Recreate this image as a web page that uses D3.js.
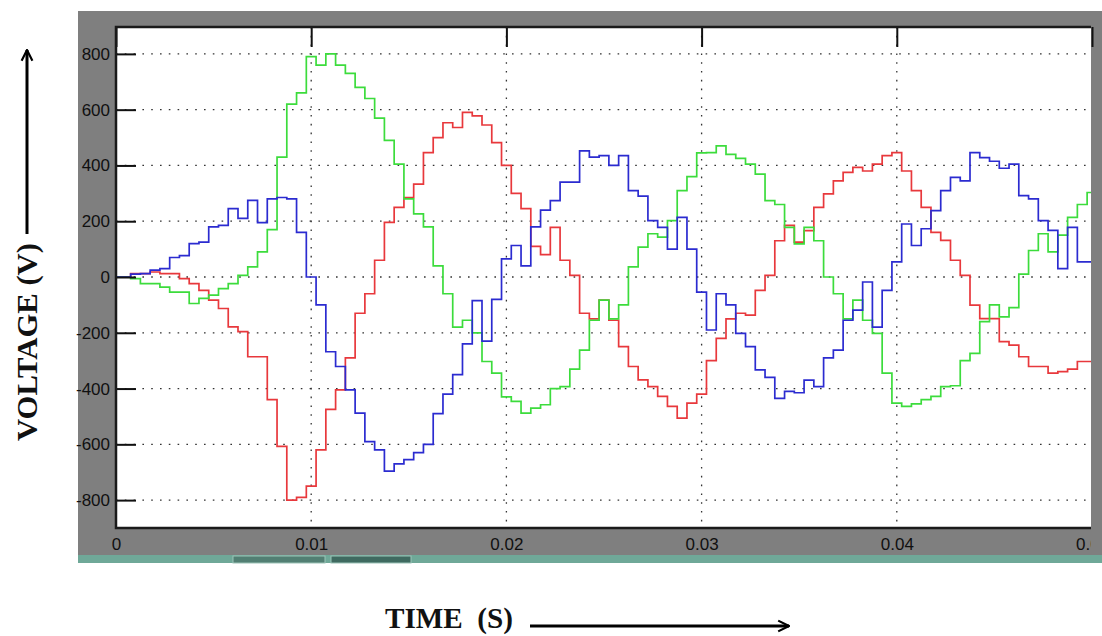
<!DOCTYPE html>
<html>
<head>
<meta charset="utf-8">
<script src="https://cdn.jsdelivr.net/npm/d3@7"></script>
<style>
  body { margin: 0; background: #fff; }
  .tick text { font-family: "Liberation Sans", Arial, sans-serif; font-size: 17px; fill: #101010; }
  .label { font-family: "Liberation Serif", "Times New Roman", serif; font-weight: bold; font-size: 29px; fill: #111; white-space: pre; }
</style>
</head>
<body>
<div id="chart"></div>
<script>
// Data (0.5 ms samples)
var times = [
  0, 0.0005, 0.001, 0.0015, 0.002, 0.0025, 0.003, 0.0035, 0.004, 0.0045,
  0.005, 0.0055, 0.006, 0.0065, 0.007, 0.0075, 0.008, 0.0085, 0.009, 0.0095,
  0.01, 0.0105, 0.011, 0.0115, 0.012, 0.0125, 0.013, 0.0135, 0.014, 0.0145,
  0.015, 0.0155, 0.016, 0.0165, 0.017, 0.0175, 0.018, 0.0185, 0.019, 0.0195,
  0.02, 0.0205, 0.021, 0.0215, 0.022, 0.0225, 0.023, 0.0235, 0.024, 0.0245,
  0.025, 0.0255, 0.026, 0.0265, 0.027, 0.0275, 0.028, 0.0285, 0.029, 0.0295,
  0.03, 0.0305, 0.031, 0.0315, 0.032, 0.0325, 0.033, 0.0335, 0.034, 0.0345,
  0.035, 0.0355, 0.036, 0.0365, 0.037, 0.0375, 0.038, 0.0385, 0.039, 0.0395,
  0.04, 0.0405, 0.041, 0.0415, 0.042, 0.0425, 0.043, 0.0435, 0.044, 0.0445,
  0.045, 0.0455, 0.046, 0.0465, 0.047, 0.0475, 0.048, 0.0485, 0.049, 0.0495,
  0.05
];

var redV = [
  0, 0, 12, 12, 18, 12, 12, -6, -24, -48,
  -83, -113, -179, -196, -286, -286, -440, -607, -800, -790,
  -750, -620, -475, -405, -290, -130, -60, 60, 196, 250,
  285, 333, 446, 500, 553, 536, 590, 578, 545, 482,
  400, 300, 245, 110, 80, 178, 60, 6, -130, -150,
  -83, -155, -250, -321, -369, -393, -428, -464, -506, -452,
  -420, -300, -220, -150, -130, -137, -48, 6, 130, 185,
  125, 166, 250, 298, 345, 375, 393, 380, 405, 435,
  446, 380, 310, 250, 160, 131, 60, 6, -101, -149,
  -149, -232, -244, -286, -321, -321, -345, -339, -330, -303,
  -303
];

var greenV = [
  0, 0, -6, -24, -24, -36, -54, -54, -95, -77,
  -65, -42, -24, 6, 36, 90, 170, 430, 620, 660,
  790, 760, 800, 760, 730, 680, 640, 570, 490, 405,
  280, 226, 180, 40, -60, -180, -155, -200, -303, -345,
  -430, -446, -488, -470, -458, -400, -393, -330, -262, -155,
  -83, -150, -100, 36, 107, 155, 143, 202, 310, 360,
  445, 446, 470, 440, 425, 405, 369, 274, 260, 178,
  119, 178, 130, 0, -60, -150, -83, -155, -202, -345,
  -452, -464, -455, -440, -428, -393, -390, -300, -274, -160,
  -100, -143, -110, 10, 95, 155, 90, 150, 214, 260,
  303
];

var blueV = [
  0, 0, 10, 12, 25, 30, 70, 77, 120, 125,
  180, 185, 245, 210, 275, 195, 280, 285, 280, 160,
  0, -100, -268, -321, -405, -488, -590, -620, -696, -670,
  -655, -630, -600, -490, -420, -350, -240, -85, -230, -80,
  65, 113, 40, 180, 240, 274, 340, 340, 452, 430,
  435, 400, 435, 310, 290, 202, 178, 100, 214, 100,
  -54, -190, -60, -100, -202, -250, -333, -360, -435, -410,
  -415, -370, -393, -290, -262, -155, -119, -18, -180, -48,
  54, 190, 113, 173, 238, 310, 357, 345, 446, 428,
  415, 390, 405, 292, 280, 202, 167, 30, 178, 54,
  54
];

var xTicks = [0, 0.01, 0.02, 0.03, 0.04, 0.05];
var xTickLabels = ["0", "0.01", "0.02", "0.03", "0.04", "0.05"];
var yTicks = [-800, -600, -400, -200, 0, 200, 400, 600, 800];

var svgW = 1102;
var svgH = 636;

// plot box inside the grey scope frame
var plot = { left: 116, right: 1092, top: 27, bottom: 528 };

var svg = d3.select('#chart')
  .append('svg')
  .attr('width', svgW)
  .attr('height', svgH);

// Scales
var xScale = d3.scaleLinear()
  .domain([0, 0.05])
  .range([plot.left, plot.right]);

var yScale = d3.scaleLinear()
  .domain([-900, 900])
  .range([plot.bottom, plot.top - 1]);

// Grey frame + teal strip
svg.append('rect')
  .attr('x', 78).attr('y', 11)
  .attr('width', 1024).attr('height', 544)
  .attr('fill', '#7f7f7f');
svg.append('rect')
  .attr('x', 78).attr('y', 555)
  .attr('width', 1024).attr('height', 8)
  .attr('fill', '#6fa898');
svg.append('rect')
  .attr('x', 233).attr('y', 556)
  .attr('width', 92).attr('height', 7)
  .attr('fill', '#527f73').attr('stroke', '#9cc4b8').attr('stroke-width', 1);
svg.append('rect')
  .attr('x', 331).attr('y', 556)
  .attr('width', 80).attr('height', 7)
  .attr('fill', '#3f6a60').attr('stroke', '#9cc4b8').attr('stroke-width', 1);

// white plot area
svg.append('rect')
  .attr('x', plot.left).attr('y', plot.top)
  .attr('width', plot.right - plot.left - 1)
  .attr('height', plot.bottom - plot.top)
  .attr('fill', '#fff');

svg.append('clipPath').attr('id', 'plotClip')
  .append('rect')
  .attr('x', plot.left).attr('y', plot.top)
  .attr('width', plot.right - plot.left - 1)
  .attr('height', plot.bottom - plot.top);

// last time label is cut by the frame edge, as on the scope
svg.append('clipPath').attr('id', 'labelClip')
  .append('rect')
  .attr('x', 0).attr('y', 0)
  .attr('width', plot.right - 1).attr('height', svgH);

// Grid (dotted)
var grid = svg.append('g').attr('clip-path', 'url(#plotClip)');
grid.selectAll('.hgrid')
  .data(yTicks)
  .enter()
  .append('line')
  .attr('x1', plot.left).attr('x2', plot.right)
  .attr('y1', d => yScale(d)).attr('y2', d => yScale(d))
  .attr('stroke', '#333').attr('stroke-width', 1.3)
  .attr('stroke-dasharray', '1.6,7.2');
grid.selectAll('.vgrid')
  .data(xTicks)
  .enter()
  .append('line')
  .attr('x1', d => xScale(d)).attr('x2', d => xScale(d))
  .attr('y1', plot.top).attr('y2', plot.bottom)
  .attr('stroke', '#333').attr('stroke-width', 1.3)
  .attr('stroke-dasharray', '1.6,7.2');

// Lines
var series = [
  { values: redV, color: '#e8383c' },
  { values: greenV, color: '#3cdc3c' },
  { values: blueV, color: '#2b2bd0' }
];

var line = d3.line()
  .x((d, i) => xScale(times[i]))
  .y(d => yScale(d))
  .curve(d3.curveStep);

var lines = svg.append('g').attr('clip-path', 'url(#plotClip)');
lines.selectAll('path')
  .data(series)
  .enter()
  .append('path')
  .attr('d', d => line(d.values))
  .attr('fill', 'none')
  .attr('stroke', d => d.color)
  .attr('stroke-width', 1.7)
  .attr('stroke-linejoin', 'miter');

// Axes (MATLAB style inward ticks)
var yAxis = d3.axisLeft(yScale)
  .tickValues(yTicks)
  .tickSize(-20)
  .tickPadding(6)
  .tickFormat(d => String(d));

var xAxis = d3.axisBottom(xScale)
  .tickValues(xTicks)
  .tickSize(-20)
  .tickPadding(10)
  .tickFormat((d, i) => xTickLabels[i]);

var xTop = d3.axisTop(xScale)
  .tickValues(xTicks)
  .tickSize(-20)
  .tickFormat('');

var gy = svg.append('g')
  .attr('transform', 'translate(' + plot.left + ',0)')
  .call(yAxis);
var gx = svg.append('g')
  .attr('transform', 'translate(0,' + plot.bottom + ')')
  .attr('clip-path', 'url(#labelClip)')
  .call(xAxis);
var gt = svg.append('g')
  .attr('transform', 'translate(0,' + plot.top + ')')
  .call(xTop);

[gy, gx, gt].forEach(function (g) {
  g.select('.domain').remove();
  g.selectAll('.tick line').attr('stroke', '#111').attr('stroke-width', 2);
});

// frame lines
svg.append('path')
  .attr('d', 'M' + (plot.right - 1) + ',' + plot.top + 'H' + plot.left + 'V' + plot.bottom + 'H' + (plot.right - 1))
  .attr('fill', 'none')
  .attr('stroke', '#1a1a1a')
  .attr('stroke-width', 2.5);

// Axis labels + arrows
svg.append('defs').append('marker')
  .attr('id', 'head')
  .attr('viewBox', '0 0 10 10')
  .attr('refX', 9).attr('refY', 5)
  .attr('markerWidth', 4.5).attr('markerHeight', 4.5)
  .attr('orient', 'auto')
  .append('path')
  .attr('d', 'M1,1 L9,5 L1,9')
  .attr('fill', 'none')
  .attr('stroke', '#000')
  .attr('stroke-width', 1.6);

svg.append('line')
  .attr('x1', 27).attr('y1', 234)
  .attr('x2', 27).attr('y2', 50)
  .attr('stroke', '#000').attr('stroke-width', 3)
  .attr('marker-end', 'url(#head)');

svg.append('text')
  .attr('class', 'label')
  .attr('transform', 'translate(37,342) rotate(-90)')
  .attr('text-anchor', 'middle')
  .attr('textLength', 198)
  .attr('lengthAdjust', 'spacingAndGlyphs')
  .text('VOLTAGE (V)');

svg.append('text')
  .attr('class', 'label')
  .attr('x', 385)
  .attr('y', 628)
  .attr('textLength', 128)
  .attr('lengthAdjust', 'spacingAndGlyphs')
  .text('TIME  (S)');

svg.append('line')
  .attr('x1', 530).attr('y1', 626)
  .attr('x2', 789).attr('y2', 626)
  .attr('stroke', '#000').attr('stroke-width', 3)
  .attr('marker-end', 'url(#head)');
</script>
</body>
</html>
